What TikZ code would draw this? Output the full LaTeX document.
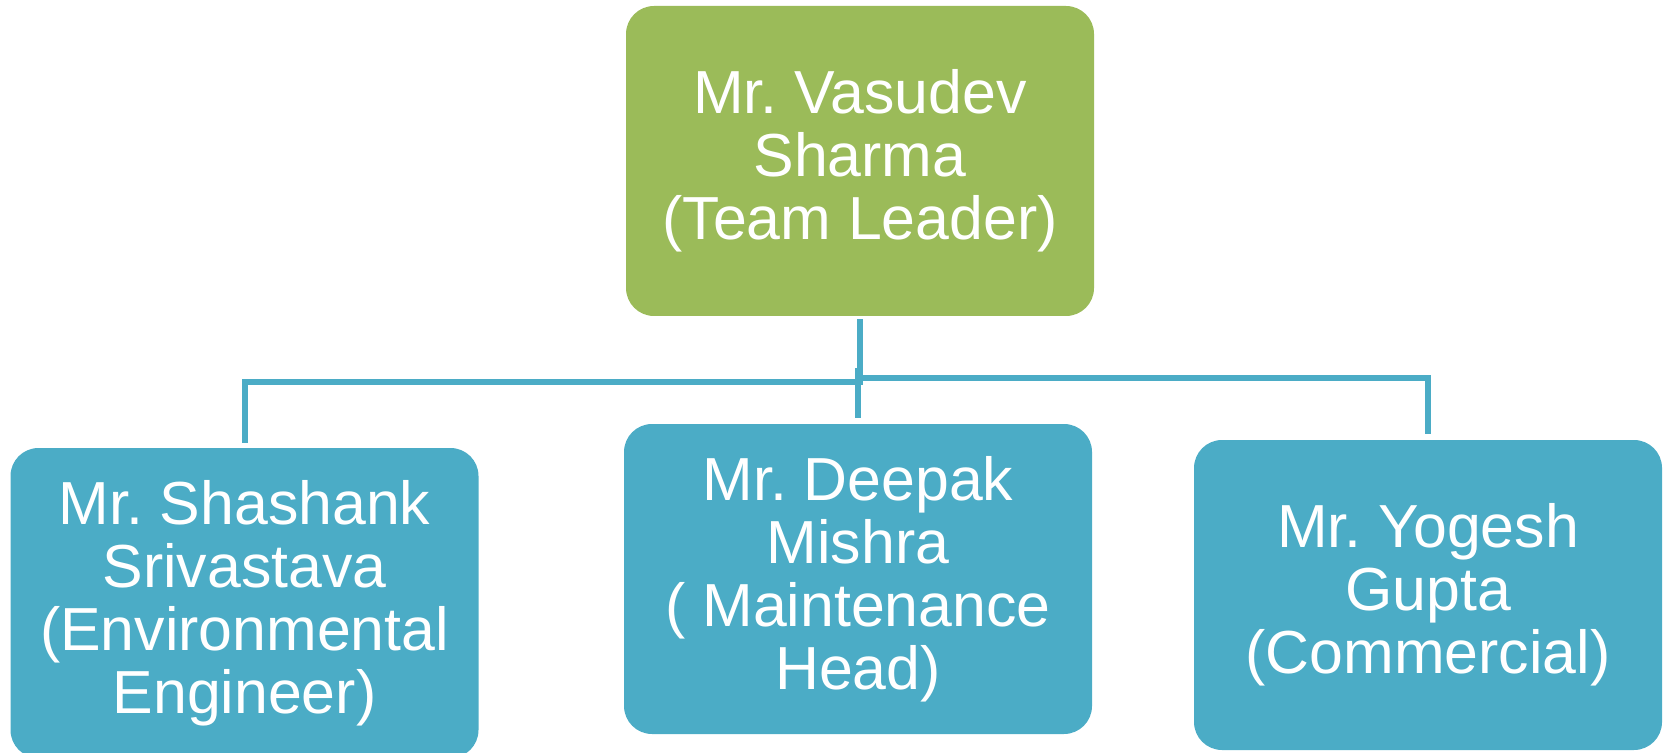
\documentclass[tikz,border=0pt]{standalone}
\usepackage{fontspec}
\setmainfont{Liberation Sans}
\definecolor{leadgreen}{HTML}{9BBB59}
\definecolor{teamteal}{HTML}{4BACC6}
\begin{document}
\begin{tikzpicture}[x=0.5pt,y=-0.5pt,
  box/.style={rounded corners=14pt, inner sep=0pt, align=center, text=white,
    minimum width=234pt, minimum height=155pt,
    font=\fontsize{30.4pt}{31.5pt}\selectfont\frenchspacing},
  leadbox/.style={box, fill=leadgreen},
  memberbox/.style={box, fill=teamteal},
  conn/.style={draw=teamteal, line width=3pt}]
\useasboundingbox (0,0) rectangle (1663,753);
\node[leadbox] (top) at (860,161) {Mr. Vasudev\\Sharma\\(Team Leader)};
\node[memberbox] (left) at (244.5,603) {Mr. Shashank\\Srivastava\\(Environmental\\Engineer)};
\node[memberbox] (mid) at (858,579) {Mr. Deepak\\Mishra\\( Maintenance\\Head)};
\node[memberbox] (right) at (1428,595) {Mr. Yogesh\\Gupta\\(Commercial)};
\coordinate (jl) at (0,382);
\coordinate (jr) at (0,378);
\coordinate (jm) at (0,368);
\draw[conn] ([yshift=-1.5pt]top.south) -- (top.south |- jl) -| ([yshift=2.5pt]left.north);
\draw[conn] (top.south |- jr) -| ([yshift=3pt]right.north);
\draw[conn] (mid.north |- jm) -- ([yshift=3pt]mid.north);
\end{tikzpicture}
\end{document}
